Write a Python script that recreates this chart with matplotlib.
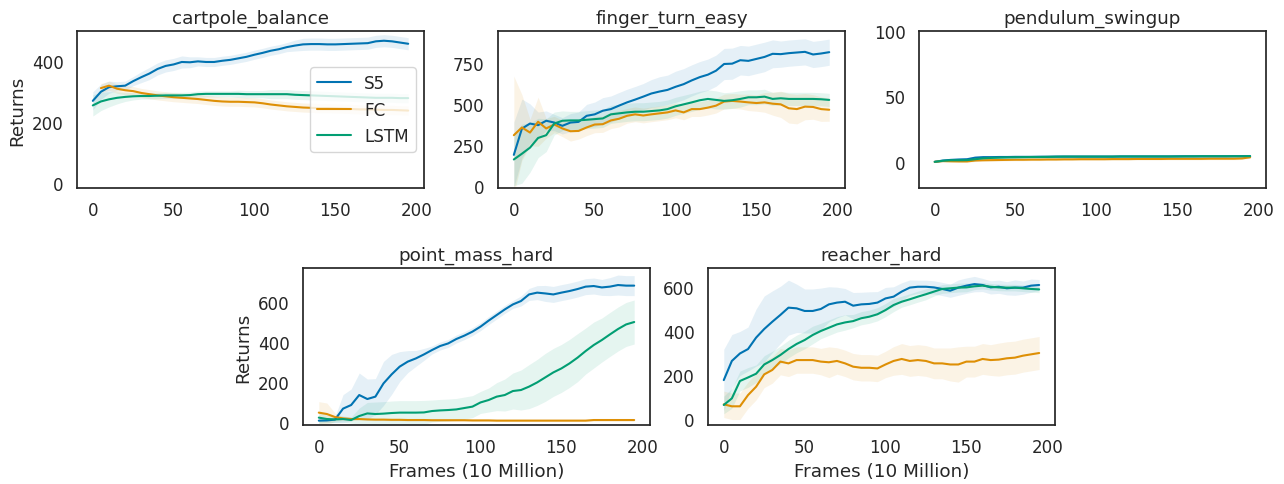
import matplotlib as mpl
import numpy as np

mpl.use("Agg")
import matplotlib.pyplot as plt
import seaborn as sns

sns.set_theme(context="notebook", style="white", palette="colorblind", font_scale=1.1)

frames = list(range(0, 200, 5))
methods = ["S5", "FC", "LSTM"]
nan = float("nan")

# cartpole_balance
cart_s5 = [270, 300, 315, 318, 320, 335, 348, 360, 375, 385, 390, 398, 397, 400, 398, 398, 402, 405, 410, 415,
           422, 428, 435, 440, 447, 452, 456, 457, 457, 456, 456, 457, 458, 459, 460, 466, 468, 466, 462, 458]
cart_s5_err = [30, 25, 20, 15, 15, 15, 18, 20, 20, 20, 20, 20, 18, 15, 15, 15, 15, 15, 15, 15,
               15, 15, 15, 15, 15, 18, 20, 20, 20, 20, 20, 20, 20, 20, 20, 20, 20, 20, 20, 20]
cart_fc = [nan, 312, 320, 310, 305, 302, 296, 292, 288, 285, 282, 280, 278, 276, 273, 270, 268, 267, 267, 266,
           265, 262, 258, 255, 252, 250, 248, 247, 246, 246, 245, 244, 243, 242, 242, 241, 240, 240, 239, 238]
cart_fc_err = [nan, 15, 15, 15, 15, 15, 15, 15, 15, 15, 15, 15, 15, 15, 15, 15, 15, 15, 15, 15,
               15, 15, 15, 15, 15, 15, 15, 15, 15, 15, 15, 15, 15, 15, 15, 15, 15, 15, 15, 15]
cart_lstm = [255, 268, 275, 280, 283, 285, 286, 286, 287, 288, 288, 288, 289, 292, 293, 293, 293, 293, 293, 292,
             292, 292, 292, 292, 292, 290, 289, 288, 287, 286, 285, 284, 283, 282, 281, 280, 280, 280, 279, 279]
cart_lstm_err = [35, 30, 25, 20, 15, 12, 10, 10, 10, 10, 10, 10, 10, 10, 10, 10, 10, 10, 12, 12,
                 12, 12, 15, 15, 15, 15, 15, 15, 15, 15, 15, 15, 15, 15, 15, 15, 15, 15, 15, 15]

# finger_turn_easy
finger_s5 = [190, 350, 381, 371, 398, 387, 367, 387, 391, 428, 437, 459, 469, 490, 510, 527, 545, 564, 576, 586,
             605, 621, 644, 664, 679, 703, 744, 746, 767, 763, 775, 787, 806, 804, 810, 814, 818, 802, 808, 816]
finger_s5_err = [200, 180, 120, 80, 60, 50, 50, 55, 60, 70, 75, 80, 80, 80, 80, 80, 80, 85, 90, 90,
                 95, 95, 95, 95, 95, 95, 95, 95, 90, 90, 90, 90, 85, 80, 80, 80, 80, 80, 80, 80]
finger_fc = [310, 357, 326, 392, 351, 375, 351, 334, 336, 357, 375, 377, 400, 410, 428, 437, 430, 437, 443, 449,
             461, 449, 469, 469, 478, 490, 515, 519, 515, 510, 506, 510, 502, 498, 474, 469, 484, 482, 469, 465]
finger_fc_err = [360, 200, 80, 150, 60, 50, 50, 60, 50, 50, 50, 50, 50, 50, 45, 45, 45, 45, 45, 45,
                 45, 45, 45, 45, 45, 45, 45, 45, 45, 50, 50, 60, 70, 80, 90, 90, 80, 75, 75, 70]
finger_lstm = [162, 197, 234, 293, 310, 381, 398, 400, 400, 404, 408, 412, 437, 443, 449, 453, 453, 457, 461, 469,
               486, 498, 510, 523, 531, 525, 519, 523, 531, 541, 541, 545, 531, 535, 531, 531, 531, 531, 529, 525]
finger_lstm_err = [160, 180, 150, 120, 100, 70, 60, 55, 55, 55, 55, 55, 55, 55, 55, 55, 55, 55, 55, 55,
                   55, 55, 55, 55, 55, 55, 50, 50, 50, 45, 45, 45, 40, 40, 40, 40, 40, 40, 40, 40]

# pendulum_swingup
pend_s5 = [0.0, 1.0, 1.5, 1.8, 2.0, 3.2, 3.6, 3.6, 3.7, 3.7, 3.8, 3.8, 3.8, 3.9, 3.9, 4.0, 4.0, 4.0, 4.0, 4.0,
           4.0, 4.0, 4.0, 4.1, 4.1, 4.1, 4.1, 4.1, 4.1, 4.1, 4.2, 4.2, 4.2, 4.2, 4.2, 4.2, 4.2, 4.3, 4.3, 4.3]
pend_s5_err = [0.5, 0.8, 1.0, 1.0, 1.0, 1.2, 1.2, 1.2, 1.2, 1.2, 1.2, 1.2, 1.2, 1.2, 1.2, 1.2, 1.2, 1.2, 1.2, 1.2,
               1.2, 1.2, 1.2, 1.2, 1.2, 1.2, 1.2, 1.2, 1.2, 1.2, 1.2, 1.2, 1.2, 1.2, 1.2, 1.2, 1.2, 1.2, 1.2, 1.2]
pend_fc = [0.0, 0.6, 0.4, 0.3, 0.3, 1.0, 1.2, 1.3, 1.4, 1.5, 1.6, 1.6, 1.7, 1.7, 1.8, 1.8, 1.9, 1.9, 2.0, 2.0,
           2.0, 2.0, 2.1, 2.1, 2.1, 2.2, 2.2, 2.2, 2.2, 2.3, 2.3, 2.3, 2.3, 2.3, 2.4, 2.4, 2.4, 2.4, 2.6, 3.5]
pend_fc_err = [0.5, 0.6, 0.6, 0.6, 0.6, 0.8, 0.8, 0.8, 0.8, 0.8, 0.8, 0.8, 0.8, 0.8, 0.8, 0.8, 0.8, 0.8, 0.8, 0.8,
               0.8, 0.8, 0.8, 0.8, 0.8, 0.8, 0.8, 0.8, 0.8, 0.8, 0.8, 0.8, 0.8, 0.8, 0.8, 0.8, 0.8, 0.8, 0.8, 0.8]
pend_lstm = [0.0, 0.8, 1.2, 1.2, 1.3, 2.0, 2.7, 3.0, 3.2, 3.4, 3.5, 3.6, 3.7, 3.7, 3.8, 3.9, 4.0, 4.0, 4.0, 4.0,
             4.0, 4.0, 4.0, 4.1, 4.1, 4.1, 4.1, 4.1, 4.1, 4.1, 4.1, 4.2, 4.2, 4.3, 4.3, 4.3, 4.3, 4.3, 4.3, 4.4]
pend_lstm_err = [0.5, 0.8, 1.0, 1.0, 1.0, 1.2, 1.3, 1.3, 1.3, 1.3, 1.3, 1.3, 1.3, 1.3, 1.3, 1.3, 1.3, 1.3, 1.3, 1.3,
                 1.3, 1.3, 1.3, 1.3, 1.3, 1.3, 1.3, 1.3, 1.3, 1.3, 1.3, 1.3, 1.3, 1.3, 1.3, 1.3, 1.3, 1.3, 1.3, 1.3]

# point_mass_hard
pm_s5 = [7, 8, 12, 67, 85, 135, 115, 127, 193, 238, 277, 302, 318, 338, 360, 380, 393, 415, 432, 452,
         477, 507, 535, 563, 588, 605, 638, 647, 643, 638, 647, 655, 665, 677, 680, 673, 677, 685, 682, 682]
pm_s5_err = [8, 10, 15, 70, 80, 110, 100, 90, 110, 100, 75, 55, 40, 30, 20, 20, 20, 20, 20, 20,
             20, 20, 20, 20, 20, 25, 30, 35, 40, 40, 40, 40, 40, 40, 40, 40, 45, 50, 50, 50]
pm_fc = [47, 40, 25, 18, 15, 15, 13, 12, 12, 11, 11, 10, 10, 10, 9, 9, 9, 9, 9, 8,
         8, 8, 7, 7, 7, 7, 7, 7, 7, 7, 7, 7, 7, 7, 10, 10, 10, 10, 10, 10]
pm_fc_err = [55, 55, 20, 10, 8, 6, 5, 5, 5, 5, 5, 5, 5, 5, 5, 5, 5, 5, 5, 5,
             5, 5, 5, 5, 5, 5, 5, 5, 5, 5, 5, 5, 5, 5, 5, 5, 5, 5, 5, 5]
pm_lstm = [22, 15, 13, 15, 10, 30, 43, 40, 42, 45, 47, 47, 47, 48, 55, 58, 60, 63, 70, 77,
           98, 110, 127, 135, 155, 160, 177, 198, 223, 248, 268, 293, 322, 355, 385, 410, 438, 465, 488, 500]
pm_lstm_err = [30, 20, 15, 15, 15, 40, 55, 60, 60, 60, 60, 60, 60, 60, 55, 55, 55, 55, 55, 55,
               55, 60, 70, 80, 90, 100, 110, 115, 120, 120, 120, 120, 120, 115, 115, 110, 110, 110, 110, 110]

# reacher_hard
reach_s5 = [177, 264, 298, 318, 370, 409, 442, 473, 506, 503, 491, 491, 500, 521, 529, 533, 515, 521, 523, 529,
            548, 556, 579, 597, 601, 601, 598, 591, 583, 597, 606, 613, 609, 598, 601, 594, 597, 597, 606, 609]
reach_s5_err = [140, 120, 100, 100, 130, 150, 140, 130, 125, 110, 100, 100, 95, 80, 70, 60, 60, 55, 55, 50,
                50, 45, 40, 35, 30, 30, 30, 30, 30, 35, 35, 35, 30, 30, 30, 30, 35, 30, 30, 25]
reach_fc = [67, 58, 58, 109, 147, 203, 223, 261, 253, 268, 268, 268, 261, 258, 264, 253, 238, 233, 233, 230,
            248, 264, 273, 264, 268, 264, 253, 253, 248, 248, 261, 261, 273, 268, 270, 276, 279, 288, 294, 300]
reach_fc_err = [60, 60, 60, 60, 60, 60, 60, 60, 60, 60, 60, 60, 60, 70, 60, 60, 60, 60, 60, 60,
                60, 65, 70, 70, 70, 70, 70, 70, 75, 80, 70, 70, 70, 70, 75, 75, 75, 75, 75, 75]
reach_lstm = [64, 94, 173, 189, 206, 248, 268, 291, 318, 341, 359, 382, 400, 415, 430, 439, 445, 458, 465, 476,
              495, 518, 533, 544, 556, 567, 579, 591, 594, 597, 598, 603, 606, 601, 598, 597, 597, 594, 591, 589]
reach_lstm_err = [40, 45, 45, 45, 40, 40, 40, 40, 40, 40, 40, 40, 35, 35, 35, 35, 30, 30, 30, 30,
                  30, 30, 25, 25, 25, 25, 20, 20, 20, 20, 20, 15, 15, 15, 15, 15, 15, 15, 15, 15]

tasks = [
    ("cartpole_balance", [(cart_s5, cart_s5_err), (cart_fc, cart_fc_err), (cart_lstm, cart_lstm_err)]),
    ("finger_turn_easy", [(finger_s5, finger_s5_err), (finger_fc, finger_fc_err), (finger_lstm, finger_lstm_err)]),
    ("pendulum_swingup", [(pend_s5, pend_s5_err), (pend_fc, pend_fc_err), (pend_lstm, pend_lstm_err)]),
    ("point_mass_hard", [(pm_s5, pm_s5_err), (pm_fc, pm_fc_err), (pm_lstm, pm_lstm_err)]),
    ("reacher_hard", [(reach_s5, reach_s5_err), (reach_fc, reach_fc_err), (reach_lstm, reach_lstm_err)]),
]
ylims = [(-17, 500), (-12, 945), (-20, 100), (-15, 770), (-27, 686)]
yticks = [[0, 200, 400], [0, 250, 500, 750], [0, 50, 100], [0, 200, 400, 600], [0, 200, 400, 600]]

# axes boxes in figure fractions (left, bottom, width, height)
boxes = [
    (0.0600, 0.6103, 0.2702, 0.3237),
    (0.3879, 0.6103, 0.2702, 0.3237),
    (0.7157, 0.6103, 0.2702, 0.3237),
    (0.2360, 0.1216, 0.2702, 0.3237),
    (0.5514, 0.1216, 0.2702, 0.3237),
]

colors = sns.color_palette("colorblind")[:3]
fig = plt.figure(figsize=(12.84, 4.85), dpi=100)
x = np.asarray(frames)
for i, ((title, series), box) in enumerate(zip(tasks, boxes)):
    ax = fig.add_axes(box)
    for name, (mean, err), c in zip(methods, series, colors):
        m = np.asarray(mean, dtype=float)
        e = np.asarray(err, dtype=float)
        ax.fill_between(x, m - e, m + e, color=c, alpha=0.1, linewidth=0)
        ax.plot(x, m, color=c, linewidth=1.5, label=name)
    ax.set_title(title)
    ax.set_ylim(*ylims[i])
    ax.set_yticks(yticks[i])
    ax.set_xticks([0, 50, 100, 150, 200])
    ax.set_xlim(-9.75, 204.75)
    if i in (0, 3):
        ax.set_ylabel("Returns")
    if i in (3, 4):
        ax.set_xlabel("Frames (10 Million)")
    if i == 0:
        ax.legend(loc="center right")

fig.savefig("out.png", dpi=100)
plt.close(fig)
